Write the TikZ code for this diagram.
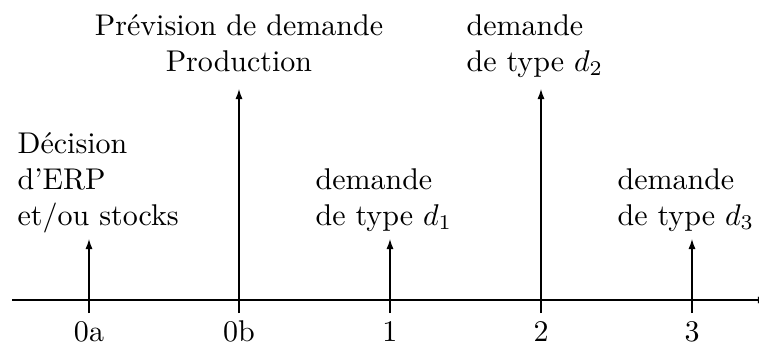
\documentclass[tikz,border=0pt]{standalone}
\usetikzlibrary{arrows.meta}
\begin{document}
\begin{tikzpicture}[x=0.3333pt,y=-0.3333pt,
  axisline/.style={line width=0.4pt,-{Latex[length=3.4pt,width=2.4pt]}},
  evarrow/.style={line width=0.4pt,-{Latex[length=3.4pt,width=2.4pt]}},
  lbl/.style={inner sep=0pt,align=left,anchor=base west},
  toplbl/.style={inner sep=0pt,align=center,anchor=base},
  ticklbl/.style={inner sep=0pt,anchor=base}]
\useasboundingbox (0,0) rectangle (759,354);
% axis
\coordinate (ax0) at (12,300);
\coordinate (ax1) at (768,300);
\draw[axisline] (ax0) -- (ax1);
% ticks and arrows
\coordinate (b0a) at (89,313);  \coordinate (h0a) at (89,239);
\coordinate (b0b) at (239,313); \coordinate (h0b) at (239,89);
\coordinate (b1)  at (390,313); \coordinate (h1)  at (390,239);
\coordinate (b2)  at (541,313); \coordinate (h2)  at (541,89);
\coordinate (b3)  at (692,313); \coordinate (h3)  at (692,239);
\draw[evarrow] (b0a) -- (h0a);
\draw[evarrow] (b0b) -- (h0b);
\draw[evarrow] (b1) -- (h1);
\draw[evarrow] (b2) -- (h2);
\draw[evarrow] (b3) -- (h3);
% tick labels
\node[ticklbl] (l0a) at (89,341) {0a};
\node[ticklbl] (l0b) at (239,341) {0b};
\node[ticklbl] (l1)  at (390,341) {1};
\node[ticklbl] (l2)  at (541,341) {2};
\node[ticklbl] (l3)  at (692,341) {3};
% event labels
\node[lbl] (t0a) at (17,225) {D\'ecision\\d'ERP\\et/ou stocks};
\node[toplbl] (t0b) at (239,71) {Pr\'evision de demande\\Production};
\node[lbl] (t1) at (315,225) {demande\\de type $d_1$};
\node[lbl] (t2) at (466,71) {demande\\de type $d_2$};
\node[lbl] (t3) at (617,225) {demande\\de type $d_3$};
\end{tikzpicture}
\end{document}
